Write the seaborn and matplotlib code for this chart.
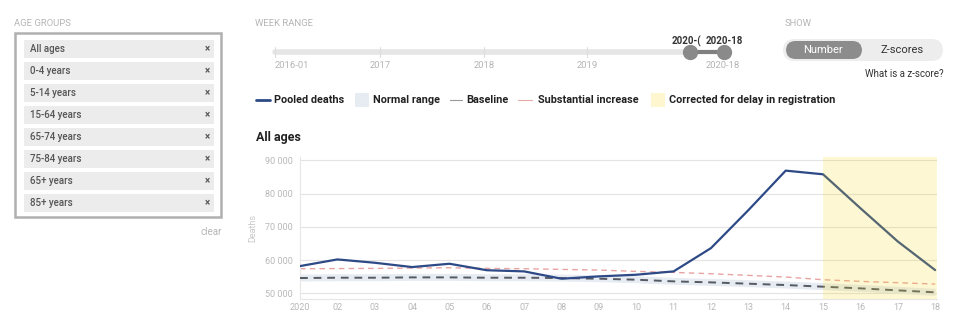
import numpy as np
import pandas as pd
import matplotlib
matplotlib.use("Agg")
import matplotlib.pyplot as plt
from matplotlib.patches import Rectangle, FancyBboxPatch
from matplotlib.lines import Line2D
from matplotlib.ticker import FuncFormatter
import seaborn as sns

# Data
weeks = list(range(1, 19))
week_labels = ["2020", "02", "03", "04", "05", "06", "07", "08", "09",
               "10", "11", "12", "13", "14", "15", "16", "17", "18"]
pooled_deaths = [58200, 60200, 59200, 57900, 58900, 56950, 56600, 54400, 55100,
                 55600, 56600, 63600, 75000, 86900, 85800, 75600, 65600, 57000]
baseline = [54600, 54700, 54700, 54800, 54800, 54700, 54700, 54600, 54400,
            54100, 53600, 53300, 52900, 52500, 52000, 51500, 50900, 50300]
substantial = [57400, 57450, 57500, 57600, 57700, 57500, 57400, 57200, 57000,
               56600, 56300, 55900, 55400, 54900, 54100, 53600, 53200, 52800]
normal_low = [53700, 53800, 53800, 53900, 53900, 53800, 53800, 53700, 53500,
              53200, 52700, 52400, 52000, 51600, 51100, 50600, 50000, 49400]
normal_high = [55800, 55900, 55900, 56000, 56000, 55900, 55900, 55800, 55600,
               55300, 54800, 54500, 54100, 53700, 53200, 52700, 52100, 51500]
delay_start, delay_end = 15, 18.05

age_groups = ["All ages", "0-4 years", "5-14 years", "15-64 years",
              "65-74 years", "75-84 years", "65+ years", "85+ years"]
range_ticks = ["2016-01", "2017", "2018", "2019", "2020-18"]
legend_items = ["Pooled deaths", "Normal range", "Baseline",
                "Substantial increase", "Corrected for delay in registration"]

df = pd.DataFrame({"week": weeks, "Pooled deaths": pooled_deaths,
                   "Baseline": baseline, "Substantial increase": substantial})

sns.set_style("white")
plt.rcParams["font.family"] = ["Roboto", "DejaVu Sans"]

W, H = 960, 327
fig = plt.figure(figsize=(W / 100, H / 100), dpi=100)


def fx(x):
    return x / W


def fy(y):
    return 1 - y / H


BLUE = "#2d4a86"
GREY_TXT = "#b5b5b5"
CHIP = "#ececec"

# ---- left panel: age groups
fig.text(fx(14), fy(23), "AGE GROUPS", fontsize=6.8, color=GREY_TXT, va="center")
fig.add_artist(Rectangle((fx(15), fy(217)), fx(206), 184 / H, fill=False,
                         edgecolor="#b0b0b0", linewidth=1.8, transform=fig.transFigure))
for i, name in enumerate(age_groups):
    yc = 49 + i * 22
    fig.add_artist(Rectangle((fx(24), fy(yc + 9)), fx(190), 18 / H, facecolor=CHIP,
                             edgecolor="none", transform=fig.transFigure))
    fig.text(fx(30), fy(yc), name, fontsize=7, color="#555555", va="center",
             fontweight="medium")
    fig.text(fx(207), fy(yc), "×", fontsize=7, color="#555555", va="center", ha="center",
             fontweight="bold")
fig.text(fx(222), fy(232), "clear", fontsize=7, color=GREY_TXT, va="center", ha="right")

# ---- week range slider
fig.text(fx(255), fy(23), "WEEK RANGE", fontsize=6.8, color=GREY_TXT, va="center")
fig.add_artist(Line2D([fx(275), fx(690)], [fy(52), fy(52)], color="#e6e6e6",
                      linewidth=4, solid_capstyle="round", transform=fig.transFigure))
tick_x = [275, 380, 484, 587, 723]
for tx, lab in zip(tick_x, range_ticks):
    if tx < 700:
        fig.add_artist(Line2D([fx(tx), fx(tx)], [fy(47), fy(57)], color="#dddddd",
                              linewidth=0.8, transform=fig.transFigure))
    fig.text(fx(tx), fy(65), lab, fontsize=6.8, color=GREY_TXT, va="center",
             ha="left" if tx == 275 else "center")
fig.add_artist(Line2D([fx(690), fx(724)], [fy(52), fy(52)], color="#808080",
                      linewidth=3, marker="o", markersize=10, markerfacecolor="#8a8a8a",
                      markeredgecolor="#8a8a8a", transform=fig.transFigure))
fig.text(fx(701), fy(41), "2020-(", fontsize=7, color="#333333", va="center",
         ha="right", fontweight="bold")
fig.text(fx(724), fy(41), "2020-18", fontsize=7, color="#333333", va="center",
         ha="center", fontweight="bold")

# ---- show toggle
fig.text(fx(785), fy(23), "SHOW", fontsize=6.8, color=GREY_TXT, va="center")
fig.add_artist(FancyBboxPatch((fx(783), fy(61)), fx(160), 22 / H,
                              boxstyle="round,pad=0,rounding_size=0.012",
                              facecolor="#ededed", edgecolor="none",
                              mutation_aspect=W / H, transform=fig.transFigure))
fig.add_artist(FancyBboxPatch((fx(786), fy(59)), fx(76), 18 / H,
                              boxstyle="round,pad=0,rounding_size=0.01",
                              facecolor="#8c8c8c", edgecolor="none",
                              mutation_aspect=W / H, transform=fig.transFigure))
fig.text(fx(823), fy(50), "Number", fontsize=8, color="white", va="center", ha="center")
fig.text(fx(902), fy(50), "Z-scores", fontsize=8, color="#333333", va="center", ha="center")
fig.text(fx(944), fy(74), "What is a z-score?", fontsize=7, color="#333333",
         va="center", ha="right")

# ---- legend
ly = fy(100)
fig.add_artist(Line2D([fx(256), fx(270)], [ly, ly], color=BLUE, linewidth=2,
                      transform=fig.transFigure))
fig.text(fx(274), ly, legend_items[0], fontsize=7.8, color="#222222", va="center",
         fontweight="bold")
fig.add_artist(Rectangle((fx(355), fy(107)), fx(14), 14 / H, facecolor="#e7ecf3",
                         edgecolor="none", transform=fig.transFigure))
fig.text(fx(373), ly, legend_items[1], fontsize=7.8, color="#222222", va="center",
         fontweight="bold")
fig.add_artist(Line2D([fx(450), fx(462)], [ly, ly], color="#999999", linewidth=0.8,
                      transform=fig.transFigure))
fig.text(fx(466), ly, legend_items[2], fontsize=7.8, color="#222222", va="center",
         fontweight="bold")
fig.add_artist(Line2D([fx(518), fx(532)], [ly, ly], color="#e6a7a7", linewidth=0.8,
                      transform=fig.transFigure))
fig.text(fx(538), ly, legend_items[3], fontsize=7.8, color="#222222", va="center",
         fontweight="bold")
fig.add_artist(Rectangle((fx(651), fy(107)), fx(14), 14 / H, facecolor="#fdf6cf",
                         edgecolor="none", transform=fig.transFigure))
fig.text(fx(669), ly, legend_items[4], fontsize=7.8, color="#222222", va="center",
         fontweight="bold")

fig.text(fx(256), fy(138), "All ages", fontsize=9, color="#222222", va="center",
         fontweight="bold")

# ---- main chart
ax = fig.add_axes([fx(300), fy(299), (937 - 300) / W, (299 - 157) / H])
ax.set_xlim(1, 18.05)
ax.set_ylim(48300, 91000)

ax.fill_between(weeks, normal_low, normal_high, color="#e7ecf3", linewidth=0, zorder=1)
sns.lineplot(data=df, x="week", y="Substantial increase", ax=ax, color="#e8a3a3",
             linewidth=1, zorder=2).lines[-1].set_dashes([4, 3])
sns.lineplot(data=df, x="week", y="Baseline", ax=ax, color="#555a63",
             linewidth=1.4, zorder=3).lines[-1].set_dashes([4, 3])
sns.lineplot(data=df, x="week", y="Pooled deaths", ax=ax, color=BLUE,
             linewidth=1.6, zorder=4)
ax.axvspan(delay_start, delay_end, color="#f5d723", alpha=0.2, linewidth=0, zorder=5)

ax.set_yticks([50000, 60000, 70000, 80000, 90000])
ax.yaxis.set_major_formatter(FuncFormatter(lambda v, p: f"{int(v):,}".replace(",", " ")))
ax.set_xticks(weeks)
ax.set_xticklabels(week_labels)
ax.grid(axis="y", color="#e3e3e3", linewidth=0.8)
ax.set_axisbelow(True)
ax.tick_params(axis="y", labelsize=6.5, labelcolor="#b8b8b8", length=3, color="#d0d0d0", pad=2)
ax.tick_params(axis="x", labelsize=6.5, labelcolor="#b8b8b8", length=0, pad=3)
ax.set_xlabel("")
ax.set_ylabel("Deaths", fontsize=6.5, color="#c8c8c8", labelpad=6)
for side in ("top", "right"):
    ax.spines[side].set_visible(False)
ax.spines["left"].set_color("#e6e6e6")
ax.spines["bottom"].set_color("#e6e6e6")

fig.savefig("out.png", dpi=100)
